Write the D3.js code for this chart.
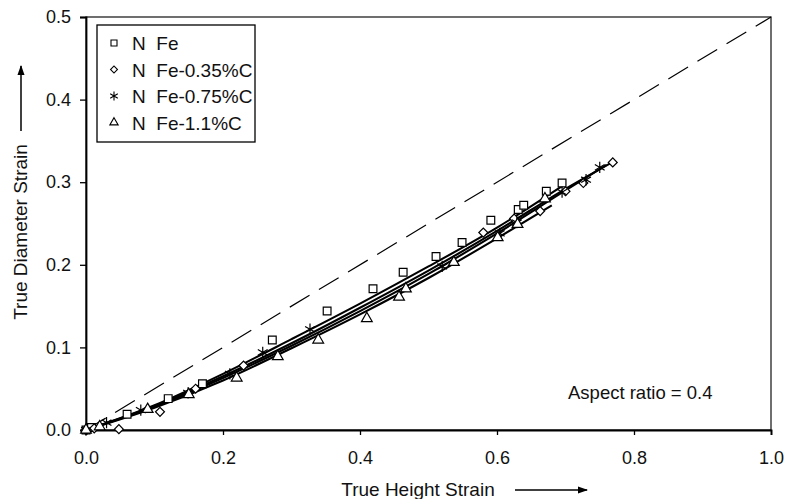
<!DOCTYPE html>
<html>
<head>
<meta charset="utf-8">
<script src="https://cdn.jsdelivr.net/npm/d3@7"></script>
<style>
  body { margin: 0; background: #fff; }
  svg { font-family: "Liberation Sans", Arial, sans-serif; }
</style>
</head>
<body>
<div id="chart"></div>
<script>
// series names (legend)
const seriesNames = ["N  Fe", "N  Fe-0.35%C", "N  Fe-0.75%C", "N  Fe-1.1%C"];
const xTicks = [0.0, 0.2, 0.4, 0.6, 0.8, 1.0];
const yTicks = [0.0, 0.1, 0.2, 0.3, 0.4, 0.5];

// measured points [height strain, diameter strain]
const pointsFe = [[0,0],[0.008,0.003],[0.06,0.019],[0.12,0.038],[0.17,0.056],[0.272,0.109],[0.352,0.144],[0.419,0.171],[0.463,0.191],[0.511,0.210],[0.549,0.227],[0.591,0.254],[0.631,0.267],[0.639,0.272],[0.672,0.289],[0.695,0.299]];
const pointsC035 = [[0,0],[0.012,0.002],[0.048,0.001],[0.108,0.022],[0.16,0.050],[0.23,0.078],[0.58,0.239],[0.625,0.256],[0.663,0.265],[0.70,0.289],[0.726,0.299],[0.769,0.324]];
const pointsC075 = [[0,0],[0.03,0.009],[0.08,0.024],[0.149,0.045],[0.21,0.068],[0.258,0.094],[0.327,0.122],[0.52,0.198],[0.604,0.238],[0.629,0.251],[0.695,0.288],[0.73,0.303],[0.750,0.318]];
const pointsC11 = [[0,0],[0.02,0.004],[0.09,0.025],[0.15,0.043],[0.220,0.063],[0.280,0.089],[0.339,0.109],[0.410,0.135],[0.457,0.161],[0.467,0.171],[0.537,0.203],[0.601,0.233],[0.63,0.249],[0.67,0.28]];

// fitted curves
const fitFe = [[0,0],[0.1,0.030],[0.2,0.068],[0.3,0.110],[0.4,0.153],[0.5,0.198],[0.6,0.245],[0.7,0.298]];
const fitC035 = [[0,0],[0.1,0.029],[0.2,0.065],[0.3,0.105],[0.4,0.148],[0.5,0.193],[0.6,0.241],[0.7,0.292],[0.77,0.325]];
const fitC075 = [[0,0],[0.1,0.028],[0.2,0.063],[0.3,0.102],[0.4,0.144],[0.5,0.189],[0.6,0.238],[0.7,0.290],[0.76,0.321]];
const fitC11 = [[0,0],[0.1,0.027],[0.2,0.060],[0.3,0.099],[0.4,0.140],[0.5,0.184],[0.6,0.232],[0.68,0.272]];

// reference dashed line
const refLine = [[0,0],[1.0,0.5]];

const margin = {top: 17, right: 15, bottom: 69, left: 86},
  width = 786 - margin.left - margin.right,
  height = 499 - margin.top - margin.bottom;

const svg = d3.select("#chart")
  .append("svg")
  .attr("width", 786)
  .attr("height", 499)
  .append("g")
  .attr("transform", `translate(${margin.left},${margin.top})`);

const x = d3.scaleLinear().domain([0, 1]).range([0, width]);
const y = d3.scaleLinear().domain([0, 0.5]).range([height, 0]);

// frame (top/right)
svg.append("rect")
  .attr("width", width).attr("height", height)
  .attr("fill", "none").attr("stroke", "#222").attr("stroke-width", 1.3);

// axes
const xAxis = svg.append("g")
  .attr("transform", `translate(0,${height})`)
  .call(d3.axisBottom(x).tickValues(xTicks).tickFormat(d3.format(".1f")).tickSizeOuter(0).tickSize(5).tickPadding(16));
const yAxis = svg.append("g")
  .call(d3.axisLeft(y).tickValues(yTicks).tickFormat(d3.format(".1f")).tickSizeOuter(0).tickSize(6).tickPadding(9));
[xAxis, yAxis].forEach(a => {
  a.select(".domain").attr("stroke", "#000").attr("stroke-width", 1.8);
  a.selectAll(".tick line").attr("stroke", "#000").attr("stroke-width", 1.3);
  a.selectAll("text").attr("font-size", 18).attr("fill", "#111")
    .style("font-family", "'Liberation Sans', Arial, sans-serif");
});

// dashed reference line
const line = d3.line().x(d => x(d[0])).y(d => y(d[1]));
svg.append("path")
  .datum(refLine)
  .attr("d", line)
  .attr("fill", "none").attr("stroke", "#000").attr("stroke-width", 1.2)
  .attr("stroke-dasharray", "23,11");

// fitted curves
const smooth = d3.line().x(d => x(d[0])).y(d => y(d[1])).curve(d3.curveMonotoneX);
[fitFe, fitC035, fitC075, fitC11].forEach(f => {
  svg.append("path")
    .datum(f)
    .attr("d", smooth)
    .attr("fill", "none").attr("stroke", "#000").attr("stroke-width", 2.1);
});

// markers (diamond = square turned 45deg)
const symbols = [d3.symbolSquare, d3.symbolSquare, d3.symbolAsterisk, d3.symbolTriangle];
const rotate = [0, 45, 0, 0];
const sizes = [60, 40, 90, 50];
const allPoints = [pointsFe, pointsC035, pointsC075, pointsC11];
allPoints.forEach((pts, i) => {
  svg.selectAll("mysym" + i)
    .data(pts)
    .join("path")
      .attr("transform", d => `translate(${x(d[0])},${y(d[1])})rotate(${rotate[i]})`)
      .attr("d", d3.symbol().type(symbols[i]).size(sizes[i]))
      .attr("fill", i === 2 ? "none" : "#fff")
      .attr("stroke", "#000")
      .attr("stroke-width", 1.2);
});

// legend
const legend = svg.append("g").attr("transform", "translate(11,8)");
legend.append("rect")
  .attr("width", 158).attr("height", 117)
  .attr("fill", "#fff").attr("stroke", "#000").attr("stroke-width", 1.3);
seriesNames.forEach((name, i) => {
  const row = legend.append("g").attr("transform", `translate(0,${18 + i * 26.5})`);
  row.append("path")
    .attr("transform", `translate(17,0)rotate(${rotate[i]})`)
    .attr("d", d3.symbol().type(symbols[i]).size(sizes[i] * 0.6))
    .attr("fill", i === 2 ? "none" : "#fff")
    .attr("stroke", "#000").attr("stroke-width", 1.1);
  row.append("text")
    .attr("x", 35).attr("y", 7)
    .attr("font-size", 19).attr("fill", "#111")
    .style("white-space", "pre")
    .text(name);
});

// annotation
svg.append("text")
  .attr("x", 482).attr("y", 382)
  .attr("font-size", 18.5).attr("fill", "#111")
  .text("Aspect ratio = 0.4");

// axis titles with arrows
const root = d3.select("#chart svg");
root.append("defs").append("marker")
  .attr("id", "arrow").attr("viewBox", "0 0 10 10")
  .attr("refX", 9).attr("refY", 5)
  .attr("markerWidth", 7).attr("markerHeight", 7)
  .attr("orient", "auto")
  .append("path").attr("d", "M0,1.5 L10,5 L0,8.5 Z").attr("fill", "#000");

root.append("text")
  .attr("x", 418).attr("y", 496)
  .attr("text-anchor", "middle")
  .attr("font-size", 19).attr("fill", "#111")
  .text("True Height Strain");
root.append("line")
  .attr("x1", 515).attr("y1", 490).attr("x2", 587).attr("y2", 490)
  .attr("stroke", "#000").attr("stroke-width", 1.5)
  .attr("marker-end", "url(#arrow)");

root.append("text")
  .attr("transform", "translate(27,232)rotate(-90)")
  .attr("text-anchor", "middle")
  .attr("font-size", 19).attr("fill", "#111")
  .text("True Diameter Strain");
root.append("line")
  .attr("x1", 21).attr("y1", 131).attr("x2", 21).attr("y2", 66)
  .attr("stroke", "#000").attr("stroke-width", 1.5)
  .attr("marker-end", "url(#arrow)");
</script>
</body>
</html>
